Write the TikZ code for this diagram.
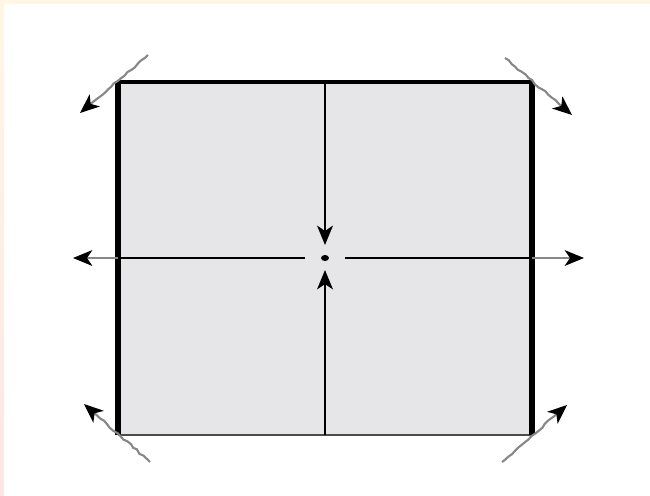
\documentclass[tikz,border=0pt]{standalone}
\usetikzlibrary{arrows.meta,decorations.pathmorphing}

\definecolor{panel}{RGB}{230,230,232}
\definecolor{cream}{RGB}{255,247,228}
\definecolor{blush}{RGB}{255,230,228}
\definecolor{pull}{RGB}{135,135,135}

\tikzset{
  edge/.style={line width=1.3pt, black},
  thickedge/.style={line width=3.4pt, black},
  pulltip/.style={-{Stealth[length=11pt, width=9pt, inset=3pt, black]}},
  strain/.style={pull, line width=1.2pt, pulltip,
    decorate, decoration={random steps, segment length=2.5pt, amplitude=0.5pt, post length=10pt}},
  stretch/.style={pull, line width=0.8pt, pulltip},
  squeeze/.style={line width=1.3pt, black, -{Stealth[length=11pt, width=9pt, inset=3pt]}}
}

\begin{document}
\pgfmathsetseed{7}
\begin{tikzpicture}[x=0.02cm, y=-0.02cm]
  % frame
  \useasboundingbox (0,0) rectangle (650,495);
  \fill[white] (0,0) rectangle (650,495);
  \fill[cream] (0,0) rectangle (650,4);
  \shade[top color=cream, bottom color=blush] (0,0) rectangle (4,495);

  % corners and middle points
  \coordinate (NW) at (118,82);
  \coordinate (NE) at (532,82);
  \coordinate (SW) at (118,435);
  \coordinate (SE) at (532,435);
  \coordinate (Centre) at (325,258);
  \coordinate (West) at (118,258);
  \coordinate (East) at (532,258);
  \coordinate (North) at (325,82);
  \coordinate (South) at (325,435);

  % panel
  \fill[panel] (NW) rectangle (SE);
  \draw[line width=1.8pt] (NW) -- (NE);
  \draw[line width=1.1pt, black!70] (SW) -- (SE);
  \draw[thickedge] (NW) -- (SW);
  \draw[thickedge] (NE) -- (SE);

  % cross lines
  \draw[edge] (West) -- (305,258);
  \draw[edge] (345,258) -- (East);
  \draw[squeeze] (North) -- (325,245);
  \draw[squeeze] (South) -- (325,270);
  \fill[black] (Centre) ellipse (4 and 3);

  % side pulls
  \coordinate (WestEnd) at (73,258);
  \coordinate (EastEnd) at (584,258);
  \draw[stretch] (West) -- (WestEnd);
  \draw[stretch] (East) -- (EastEnd);

  % corner pulls
  \coordinate (NWStart) at (148,55);
  \coordinate (NWEnd) at (80,113);
  \coordinate (NEStart) at (505,58);
  \coordinate (NEEnd) at (572,115);
  \coordinate (SWStart) at (150,462);
  \coordinate (SWEnd) at (84,404);
  \coordinate (SEStart) at (502,462);
  \coordinate (SEEnd) at (567,405);
  \draw[strain] (NWStart) -- (NWEnd);
  \draw[strain] (NEStart) -- (NEEnd);
  \draw[strain] (SWStart) -- (SWEnd);
  \draw[strain] (SEStart) -- (SEEnd);
\end{tikzpicture}
\end{document}
